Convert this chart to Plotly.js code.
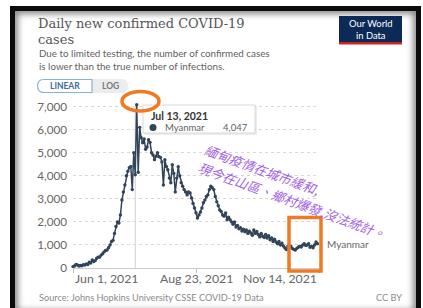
<!DOCTYPE html>
<html><head><meta charset="utf-8">
<script src="https://cdn.plot.ly/plotly-3.0.1.min.js"></script>
<style>
html,body{margin:0;padding:0;background:#fff;width:423px;height:308px;overflow:hidden;}
#frame{position:absolute;left:10px;top:6px;width:411px;height:312px;box-sizing:border-box;border:5px solid #0b0b0b;box-shadow:inset 0 0 6px 3px #8a8a8a;background:#fff;}
#chart{position:absolute;left:0;top:0;width:423px;height:308px;}
</style></head><body>
<div id="frame"></div><div id="chart"></div>
<script>
// ---- data ----
const country = 'Myanmar';
const startDate = '2021-06-01';
const cases = [
  60, 90, 150, 130, 90, 110, 100, 140, 130, 180,
  150, 250, 220, 350, 280, 320, 420, 470, 480, 560,
  620, 700, 760, 780, 880, 1000, 1150, 1200, 1500, 1800,
  2000, 1950, 2300, 2950, 3300, 3600, 4000, 4200, 4350, 4400,
  3400, 5000, 4047, 7083, 4150, 6100, 5650, 5430, 5600, 5150,
  5250, 5560, 5450, 5000, 4900, 4700, 4850, 5000, 4830, 4800,
  4600, 3600, 4700, 4400, 4260, 3900, 3700, 4480, 4100, 3300,
  3900, 4390, 4000, 3700, 3550, 3400, 3300, 3170, 3300, 3250,
  3040, 2800, 2600, 2400, 2170, 2300, 2430, 2600, 2830, 2950,
  3100, 3170, 3400, 3550, 3480, 3400, 3100, 2870, 2700, 2520,
  2450, 2300, 2250, 2390, 2090, 2200, 2090, 2000, 1900, 2000,
  1780, 1850, 1700, 1750, 1600, 1680, 1570, 1650, 1500, 1600,
  1520, 1420, 1650, 1500, 1580, 1450, 1350, 1500, 1380, 1320,
  1450, 1300, 1400, 1220, 1300, 1150, 1250, 1130, 1050, 1150,
  1000, 1080, 950, 870, 800, 950, 910, 950, 850, 800,
  780, 850, 900, 950, 910, 1000, 1050, 980, 1000, 1050,
  900, 950, 880, 1000, 1130, 1050
];
const xRange = ['2021-06-01', '2021-11-14'];
const xTickDates = ['2021-06-01', '2021-08-23', '2021-11-14'];
const xTickLabels = ['Jun 1, 2021', 'Aug 23, 2021', 'Nov 14, 2021'];
const yTickVals = [0, 1000, 2000, 3000, 4000, 5000, 6000, 7000];
const yTickLabels = ['0', '1,000', '2,000', '3,000', '4,000', '5,000', '6,000', '7,000'];
const hoverDate = '2021-07-13';
const hoverLabel = 'Jul 13, 2021';
const hoverValueLabel = '4,047';

// ---- dates ----
function addDays(s, n) {
  const d = new Date(s + 'T00:00:00Z'); d.setUTCDate(d.getUTCDate() + n);
  return d.toISOString().slice(0, 10);
}
const dates = cases.map((_, i) => addDays(startDate, i));

// ---- pixel helpers for page furniture ----
const L = 73, R = 319, T = 102, B = 268;
const W = R - L, H = B - T;
const px = x => (x - L) / W;
const py = y => (B - y) / H;
const P = (x, y) => px(x).toFixed(5) + ',' + py(y).toFixed(5);
function pill(x0, y0, x1, y1, rl, rr) {
  let d = 'M' + P(x0 + rl, y0) + ' L' + P(x1 - rr, y0);
  if (rr) d += ' Q' + P(x1, y0) + ' ' + P(x1, y0 + rr) + ' L' + P(x1, y1 - rr) + ' Q' + P(x1, y1) + ' ' + P(x1 - rr, y1);
  else d += ' L' + P(x1, y0) + ' L' + P(x1, y1);
  d += ' L' + P(x0 + rl, y1);
  if (rl) d += ' Q' + P(x0, y1) + ' ' + P(x0, y1 - rl) + ' L' + P(x0, y0 + rl) + ' Q' + P(x0, y0) + ' ' + P(x0 + rl, y0);
  else d += ' L' + P(x0, y1) + ' L' + P(x0, y0);
  return d + ' Z';
}
const sans = 'Lato, "Noto Sans", sans-serif';
function ann(text, x, y, o) {
  return Object.assign({text: text, xref: 'paper', yref: 'paper', x: px(x), y: py(y),
    showarrow: false, xanchor: 'left', yanchor: 'middle', align: 'left',
    font: {family: sans, size: 10, color: '#5f5f5f'}}, o || {});
}

const navy = '#31445a';
const orange = '#ee7b23';

const trace = {
  x: dates, y: cases, type: 'scatter', mode: 'lines+markers',
  line: {color: navy, width: 1.5},
  marker: {color: navy, size: 3.4},
  cliponaxis: false, hoverinfo: 'skip'
};

const serif = {family: '"DejaVu Serif", serif', size: 13, color: '#565656'};
const annotations = [
  ann('Daily new confirmed COVID-19', 36, 23.8, {font: serif}),
  ann('cases', 36, 39.3, {font: serif}),
  ann('Due to limited testing, the number of confirmed cases<br>is lower than the true number of infections.', 37, 59.8,
      {font: {family: sans, size: 9.8, color: '#5f5f5f'}}),
  ann('<b>LINEAR</b>', 64.5, 86, {xanchor: 'center', font: {family: sans, size: 8.5, color: '#3d6b98'}}),
  ann('<b>LOG</b>', 110, 86, {xanchor: 'center', font: {family: sans, size: 8.5, color: '#777'}}),
  ann('Our World<br>in Data', 370.5, 29.5, {xanchor: 'center', align: 'center', font: {family: sans, size: 9.4, color: '#ffffff'}}),
  ann('Source: Johns Hopkins University CSSE COVID-19 Data', 37, 297.5, {font: {family: sans, size: 9.2, color: '#8a8a8a'}}),
  ann('CC BY', 404, 297.5, {xanchor: 'right', font: {family: sans, size: 9.2, color: '#8a8a8a'}}),
  // tooltip
  ann('<b>' + hoverLabel + '</b>', 149, 115.5, {font: {family: sans, size: 10.5, color: '#333'}}),
  ann(country, 163, 127.5, {font: {family: sans, size: 9.5, color: '#5f5f5f'}}),
  ann(hoverValueLabel, 250, 127.5, {xanchor: 'right', font: {family: sans, size: 9.5, color: '#5f5f5f'}}),
  // handwritten-style note
  ann('緬甸疫情在城市緩和,', 262, 169, {xanchor: 'center', textangle: 20,
    font: {family: '"Noto Sans CJK TC", sans-serif', size: 13, color: '#a262e2', style: 'italic'}}),
  ann('現今在山區、鄉村爆發,沒法統計。', 292, 200, {xanchor: 'center', textangle: 20,
    font: {family: '"Noto Sans CJK TC", sans-serif', size: 13, color: '#a262e2', style: 'italic'}}),
  // series label
  {text: country, xref: 'x', yref: 'y', x: dates[dates.length - 1], y: cases[cases.length - 1],
   xanchor: 'left', yanchor: 'middle', xshift: 7, showarrow: false,
   font: {family: sans, size: 10, color: '#666'}}
];
// x tick labels (first left-aligned, last right-aligned as in the original)
const anchors = ['left', 'center', 'right'];
xTickDates.forEach((d, i) => annotations.push({
  text: xTickLabels[i], xref: 'x', yref: 'paper', x: d, y: py(278.5), xanchor: anchors[i], yanchor: 'middle',
  showarrow: false, font: {family: sans, size: 12.3, color: '#666'}
}));

const shapes = [
  // hover guide line
  {type: 'line', xref: 'x', yref: 'paper', x0: hoverDate, x1: hoverDate, y0: 0, y1: py(106), line: {color: '#cfcfcf', width: 1}, layer: 'below'},
  // buttons
  {type: 'path', xref: 'paper', yref: 'paper', path: pill(37, 79, 128, 93, 7, 7), fillcolor: '#ececec', line: {width: 0}},
  {type: 'path', xref: 'paper', yref: 'paper', path: pill(37.5, 79.5, 92, 92.5, 6.5, 0), fillcolor: '#ffffff', line: {color: '#86b3da', width: 1.2}},
  // logo
  {type: 'rect', xref: 'paper', yref: 'paper', x0: px(339), x1: px(402), y0: py(42), y1: py(16), fillcolor: '#0b2a55', line: {width: 0}},
  {type: 'rect', xref: 'paper', yref: 'paper', x0: px(339), x1: px(402), y0: py(44.5), y1: py(42), fillcolor: '#ce261e', line: {width: 0}},
  // tooltip
  {type: 'rect', xref: 'paper', yref: 'paper', x0: px(144), x1: px(257), y0: py(135), y1: py(106), fillcolor: 'rgba(0,0,0,0.07)', line: {width: 0}, layer: 'above'},
  {type: 'rect', xref: 'paper', yref: 'paper', x0: px(143), x1: px(255), y0: py(133), y1: py(105), fillcolor: '#ffffff', line: {color: '#d8d8d8', width: 1}, layer: 'above'},
  {type: 'circle', xref: 'paper', yref: 'paper', x0: px(149.5), x1: px(156.5), y0: py(131), y1: py(124), fillcolor: navy, line: {width: 0}, layer: 'above'},
  // series label connector
  {type: 'line', xref: 'x', yref: 'y', xsizemode: 'pixel', xanchor: dates[dates.length - 1], x0: 2, x1: 6,
   y0: cases[cases.length - 1], y1: cases[cases.length - 1], line: {color: '#bbb', width: 1}},
  // orange markings
  {type: 'circle', xref: 'paper', yref: 'paper', x0: px(122), x1: px(159), y0: py(111), y1: py(91.5), line: {color: orange, width: 3.5}, layer: 'above'},
  {type: 'rect', xref: 'paper', yref: 'paper', x0: px(289), x1: px(321), y0: py(271), y1: py(217.5), line: {color: orange, width: 3.5}, layer: 'above'}
];

const layout = {
  width: 423, height: 308,
  margin: {l: L, r: 423 - R, t: T, b: 308 - B, pad: 0},
  paper_bgcolor: 'rgba(0,0,0,0)', plot_bgcolor: 'rgba(0,0,0,0)',
  showlegend: false,
  xaxis: {type: 'date', range: xRange, showgrid: false, zeroline: false,
    showline: true, linecolor: '#cccccc', linewidth: 1,
    tickvals: xTickDates, showticklabels: false, ticks: 'outside', ticklen: 4, tickcolor: '#bbbbbb'},
  yaxis: {range: [0, 7200], tickvals: yTickVals, ticktext: yTickLabels,
    showgrid: true, gridcolor: '#d9d9d9', griddash: 'dot', gridwidth: 1, zeroline: false,
    showline: false, ticks: '', ticklabelstandoff: 5,
    tickfont: {family: sans, size: 11.7, color: '#666'}},
  annotations: annotations,
  shapes: shapes
};

Plotly.newPlot('chart', [trace], layout, {staticPlot: true, displayModeBar: false});
</script>
</body></html>
